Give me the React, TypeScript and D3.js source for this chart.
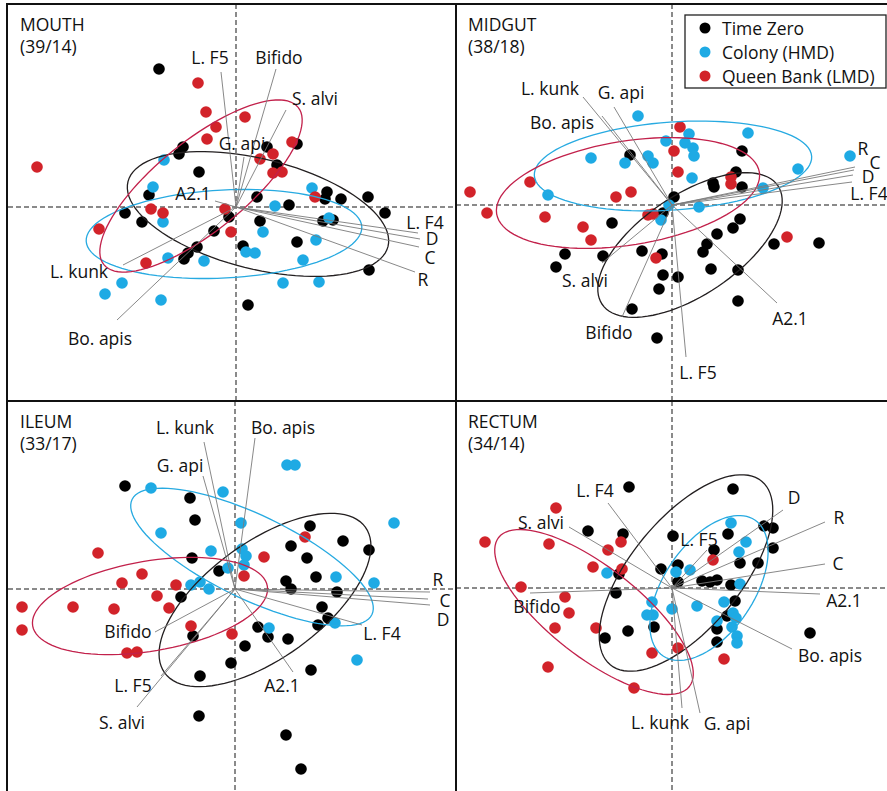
import React from 'react';
import * as d3 from 'd3';

type Pt = [number, number];

// group order: Time Zero, Colony (HMD), Queen Bank (LMD)
const groups = ['Time Zero', 'Colony (HMD)', 'Queen Bank (LMD)'];
const dotColors = ['#000000', '#1eaae4', '#d2232a'];
const ellipseColors = ['#231f20', '#27aae1', '#c2214b'];

const panelNames = ['MOUTH', 'MIDGUT', 'ILEUM', 'RECTUM'];
const panelCounts = ['(39/14)', '(38/18)', '(33/17)', '(34/14)'];
const xDomains: Pt[] = [[-22.8, 22.0], [-21.6, 21.5], [-22.7, 22.1], [-21.6, 21.5]];
const yDomains: Pt[] = [[-19.4, 20.3], [-19.6, 20.1], [-20.2, 18.8], [-20.3, 18.7]];

// ---- MOUTH ----
const mouthTimeZero: Pt[] = [
  [-7.7, 13.8], [-5.3, 6.0], [-5.7, 5.3], [-3.7, 3.5], [3.1, 6.0], [6.1, 6.3], [4.1, 4.2],
  [-8.7, 1.2], [2.1, 1.0], [9.1, 1.5], [8.9, 0.8], [10.5, 0.8], [13.2, 1.0], [-11.1, -0.6],
  [-9.4, -1.5], [-0.7, -1.0], [-2.2, -2.4], [2.4, -1.4], [0.7, -3.9], [-3.9, -4.0], [-4.8, -4.6],
  [-5.2, -5.2], [1.2, -9.8], [6.1, -3.5], [13.3, -6.3], [14.9, -0.6], [8.7, -1.4], [9.7, -1.3], [5.3, 0.2],
];
const mouthColony: Pt[] = [
  [-7.2, 4.7], [-8.3, 2.0], [7.6, 1.9], [-7.3, -1.5], [2.7, -2.5], [1.0, -4.5], [1.9, -4.6],
  [-6.8, -5.1], [-3.2, -5.4], [-11.4, -7.6], [-13.1, -8.7], [-7.5, -9.3], [8.0, -3.3], [6.7, -5.3],
  [4.7, -7.6], [8.3, -7.5], [9.3, -1.1], [3.9, 0.1],
];
const mouthQueenBank: Pt[] = [
  [-3.8, 12.4], [-19.9, 4.0], [-3.0, 9.5], [0.9, 9.0], [-2.0, 8.0], [-2.9, 6.8], [5.6, 6.5],
  [3.7, 5.3], [2.4, 4.8], [3.7, 3.4], [4.6, 3.5], [7.9, 1.0], [-8.5, -0.2], [-7.3, -0.6],
  [-13.7, -2.2], [-1.1, -0.2], [-0.5, -2.5], [-9.0, -5.6],
];
// ---- MIDGUT ----
const midgutTimeZero: Pt[] = [
  [-4.2, 5.0], [7.0, 5.4], [6.4, 3.3], [7.0, 1.8], [4.1, 2.2], [4.2, 1.8], [0.2, 0.8], [-0.9, -0.8],
  [-6.0, -1.8], [6.8, -1.4], [6.1, -2.3], [4.5, -2.9], [3.5, -3.9], [3.1, -4.7], [10.2, -3.9],
  [14.7, -3.8], [-10.7, -4.9], [-11.6, -6.2], [-6.9, -5.1], [-3.0, -4.6], [-1.0, -4.9], [-0.9, -7.0],
  [0.6, -7.2], [-1.3, -8.4], [3.9, -6.4], [6.6, -6.5], [6.6, -9.6], [-4.0, -10.4], [-1.5, -13.3],
];
const midgutColony: Pt[] = [
  [-3.4, 8.9], [7.6, 7.2], [1.7, 7.1], [-0.6, 6.4], [1.3, 6.2], [2.1, 5.7], [2.2, 4.9], [-2.4, 4.9],
  [-1.9, 4.2], [-4.7, 4.2], [-8.1, 4.7], [12.6, 3.6], [17.8, 4.9], [2.0, 2.7], [9.1, 1.7],
  [-12.4, 1.0], [-0.3, 0.0], [2.7, -0.2], [-1.1, -1.5],
];
const midgutQueenBank: Pt[] = [
  [0.8, 7.8], [0.2, 5.4], [0.6, 3.3], [-14.2, 2.3], [-20.2, 1.3], [-5.6, 0.8], [-4.1, 1.3],
  [5.9, 2.8], [5.9, 2.1], [-18.5, -0.8], [-12.7, -1.2], [-8.9, -2.2], [-8.1, -3.5], [-2.4, -1.0],
  [-1.9, -0.9], [-1.6, -5.3], [11.5, -3.2],
];
// ---- ILEUM ----
const ileumTimeZero: Pt[] = [
  [-11.0, 10.3], [-4.5, 9.1], [-4.0, 6.9], [7.5, 6.3], [10.8, 4.8], [13.4, 3.9], [5.6, 4.3],
  [7.2, 3.1], [-4.3, 3.1], [-1.6, 1.8], [8.1, 1.2], [5.1, 0.8], [5.6, 0.0], [10.2, -0.3],
  [-5.4, -0.8], [8.7, -1.8], [9.3, -2.9], [8.3, -3.6], [-4.2, -4.7], [2.3, -3.8], [3.3, -4.8],
  [5.3, -5.0], [1.0, -5.7], [-0.4, -7.4], [-3.5, -8.7], [7.6, -8.1], [-3.6, -12.7], [5.1, -14.6],
  [6.6, -18.0],
];
const ileumColony: Pt[] = [
  [5.2, 12.4], [6.0, 12.4], [-8.4, 10.1], [-1.2, 9.7], [-7.4, 5.6], [15.9, 6.6], [0.6, 6.6],
  [-2.4, 3.8], [0.7, 4.0], [1.1, 3.3], [0.9, 2.4], [-0.7, 2.1], [10.1, 1.2], [13.9, 0.6],
  [-3.5, 0.7], [-4.4, 0.4], [-2.6, 0.0], [3.4, -3.9], [10.0, -3.4], [12.2, -7.1],
];
const ileumQueenBank: Pt[] = [
  [7.0, 5.2], [-13.7, 3.6], [2.9, 3.2], [-9.3, 1.5], [-11.3, 0.6], [-5.9, 0.4], [0.9, 1.3],
  [-21.3, -1.8], [-16.2, -1.8], [-12.1, -2.0], [-21.3, -4.1], [-7.8, -0.7], [-6.6, -1.9],
  [-4.4, -3.7], [-0.3, -4.5], [-10.8, -6.4], [-9.8, -6.3],
];
// ---- RECTUM ----
const rectumTimeZero: Pt[] = [
  [-4.3, 10.1], [6.1, 9.9], [-8.4, 5.7], [-4.9, 5.4], [-5.3, 1.4], [0.1, 5.2], [5.6, 5.4],
  [9.2, 6.2], [10.1, 6.0], [10.1, 4.0], [4.2, 3.8], [6.8, 2.5], [8.6, 2.5], [-1.1, 1.9],
  [0.6, 2.3], [0.6, 0.6], [3.0, 0.7], [3.8, 0.6], [4.5, 0.8], [5.9, 0.3], [-5.6, -0.5],
  [6.3, -1.3], [5.5, -2.8], [4.5, -4.1], [4.5, -5.4], [-1.8, -3.9], [-4.4, -4.3], [-6.7, -5.0],
  [13.8, -4.5],
];
const rectumColony: Pt[] = [
  [5.9, 6.5], [7.4, 4.6], [6.7, 3.6], [-6.5, 1.5], [0.4, 1.6], [1.8, 1.8], [6.8, 0.4],
  [-2.0, -1.4], [-2.5, -2.7], [-1.9, -2.7], [0.0, -2.1], [2.5, -1.8], [5.2, -1.4], [6.1, -2.5],
  [6.4, -3.0], [4.5, -3.3], [6.0, -3.9], [6.5, -4.8], [6.5, -5.5],
];
const rectumQueenBank: Pt[] = [
  [-11.6, 8.0], [-18.7, 4.6], [-12.3, 4.4], [-5.1, 4.6], [-6.4, 3.8], [-7.9, 2.1], [-5.0, 1.9],
  [4.1, 2.8], [-15.1, 0.1], [-10.7, -0.9], [-10.3, -2.5], [-11.7, -4.0], [-7.6, -4.0],
  [-2.0, -6.5], [0.6, -6.0], [5.2, -7.1], [-12.4, -7.9], [-3.8, -10.0],
];

// confidence ellipses: [cx, cy, semi-major, semi-minor, angle (deg, counterclockwise)]
// order per panel: Time Zero, Colony, Queen Bank
type Ell = [number, number, number, number, number];
const mouthEllipses: Ell[] = [[2.2, -0.7, 13.4, 5.5, -14], [-1.2, -2.7, 13.8, 4.4, 3], [-3.5, 2.1, 12.5, 4.5, 39]];
const midgutEllipses: Ell[] = [[1.8, -4.0, 10.6, 5.0, 34], [0.1, 3.9, 13.9, 4.4, 4], [-4.4, 1.2, 13.3, 5.2, 9]];
const ileumEllipses: Ell[] = [[3.0, -1.1, 12.4, 5.8, 36], [1.7, 3.2, 13.3, 4.2, -25.6], [-8.5, -1.7, 11.9, 4.5, 9.6]];
const rectumEllipses: Ell[] = [[1.4, 1.5, 11.9, 5.5, 50.5], [3.7, 0.0, 8.2, 4.5, 56], [-7.8, -2.4, 12.1, 4.5, -38]];

// loadings: taxon, arrow tip x, y, label x, y
type Loading = [string, number, number, number, number];
const mouthLoadings: Loading[] = [
  ['L. F5', -1.5, 13.5, -2.6, 15.0], ['Bifido', 4.0, 13.8, 4.3, 15.0], ['S. alvi', 5.0, 9.7, 7.9, 10.9],
  ['G. api', 0.8, 5.0, 0.6, 6.4], ['A2.1', -2.1, 0.6, -4.3, 1.4], ['L. F4', 18.2, -2.6, 18.9, -1.5],
  ['D', 18.4, -3.2, 19.6, -3.1], ['C', 18.3, -4.0, 19.4, -5.0], ['R', 17.9, -6.5, 18.7, -7.2],
  ['L. kunk', -11.3, -5.8, -15.7, -6.4], ['Bo. apis', -11.9, -11.3, -13.6, -13.1],
];
const midgutLoadings: Loading[] = [
  ['L. kunk', -8.9, 10.8, -12.2, 11.7], ['G. api', -5.8, 9.8, -5.1, 11.3], ['Bo. apis', -7.0, 8.9, -11.0, 8.3],
  ['R', 18.3, 3.8, 19.1, 5.7], ['C', 18.2, 3.5, 20.3, 4.3], ['D', 18.1, 3.0, 19.6, 2.9],
  ['L. F4', 18.0, 2.3, 19.7, 1.2], ['S. alvi', -7.0, -5.8, -8.7, -7.5], ['Bifido', -5.0, -11.2, -6.3, -12.7],
  ['L. F5', 1.4, -15.2, 2.6, -16.7], ['A2.1', 10.5, -9.8, 11.8, -11.3],
];
const ileumLoadings: Loading[] = [
  ['L. kunk', -3.1, 14.7, -5.0, 16.2], ['Bo. apis', 2.0, 15.1, 4.8, 16.2], ['G. api', -3.2, 11.3, -5.5, 12.4],
  ['R', 19.5, -0.3, 20.3, 1.0], ['C', 19.3, -1.0, 21.0, -1.1], ['D', 19.5, -1.6, 20.8, -3.0],
  ['L. F4', 12.7, -3.6, 14.7, -4.4], ['A2.1', 5.8, -8.3, 4.7, -9.6], ['Bifido', -8.0, -4.3, -10.7, -4.2],
  ['L. F5', -7.4, -8.7, -10.2, -9.6], ['S. alvi', -9.8, -11.8, -11.3, -13.3],
];
const rectumLoadings: Loading[] = [
  ['L. F4', -6.4, 8.5, -7.7, 9.8], ['S. alvi', -10.3, 6.1, -13.1, 6.6], ['L. F5', 3.5, 3.8, 2.7, 4.9],
  ['D', 11.1, 7.8, 12.2, 9.1], ['R', 15.3, 6.6, 16.7, 7.1], ['C', 15.3, 2.4, 16.6, 2.5],
  ['A2.1', 14.8, -0.6, 17.2, -1.2], ['Bo. apis', 12.0, -6.1, 15.8, -6.7], ['G. api', 2.8, -12.5, 5.5, -13.5],
  ['L. kunk', 1.0, -12.0, -1.2, -13.4], ['Bifido', -14.2, -0.5, -13.5, -1.8],
];

const scores = [
  [mouthTimeZero, mouthColony, mouthQueenBank],
  [midgutTimeZero, midgutColony, midgutQueenBank],
  [ileumTimeZero, ileumColony, ileumQueenBank],
  [rectumTimeZero, rectumColony, rectumQueenBank],
];
const ellipses = [mouthEllipses, midgutEllipses, ileumEllipses, rectumEllipses];
const loadings = [mouthLoadings, midgutLoadings, ileumLoadings, rectumLoadings];

const W = 887;
const H = 791;
const FONT = '"Open Sans", sans-serif';
const frames = [
  { x0: 8, x1: 456, y0: 4, y1: 401 },
  { x0: 456, x1: 887, y0: 4, y1: 401 },
  { x0: 8, x1: 456, y0: 401, y1: 791 },
  { x0: 456, x1: 887, y0: 401, y1: 791 },
];

function ellipsePoints(e: Ell): Pt[] {
  const [cx, cy, a, b, ang] = e;
  const th = (ang * Math.PI) / 180;
  return d3.range(0, 96).map((i) => {
    const t = (i / 96) * 2 * Math.PI;
    const u = a * Math.cos(t);
    const v = b * Math.sin(t);
    return [cx + u * Math.cos(th) - v * Math.sin(th), cy + u * Math.sin(th) + v * Math.cos(th)] as Pt;
  });
}

function Panel({ idx }: { idx: number }) {
  const f = frames[idx];
  const x = d3.scaleLinear().domain(xDomains[idx]).range([f.x0, f.x1]);
  const y = d3.scaleLinear().domain(yDomains[idx]).range([f.y1, f.y0]);
  const line = d3.line<Pt>().x((d) => x(d[0])).y((d) => y(d[1])).curve(d3.curveLinearClosed);

  return (
    <g>
      <line x1={f.x0} x2={f.x1} y1={y(0)} y2={y(0)} stroke="#8a8a8a" strokeWidth={2} strokeDasharray="5,3" />
      <line x1={x(0)} x2={x(0)} y1={f.y0} y2={f.y1} stroke="#8a8a8a" strokeWidth={2} strokeDasharray="5,3" />
      {scores[idx].map((pts, g) => (
        <g key={g}>
          {pts.map((p, i) => (
            <circle key={i} cx={x(p[0])} cy={y(p[1])} r={5.8} fill={dotColors[g]} />
          ))}
        </g>
      ))}
      {ellipses[idx].map((e, g) => (
        <path key={g} d={line(ellipsePoints(e)) || ''} fill="none" stroke={ellipseColors[g]} strokeWidth={1.3} />
      ))}
      {loadings[idx].map((l, i) => (
        <line key={i} x1={x(0)} y1={y(0)} x2={x(l[1])} y2={y(l[2])} stroke="#7a7a7a" strokeWidth={0.9} />
      ))}
      {loadings[idx].map((l, i) => (
        <text key={i} x={x(l[3])} y={y(l[4])} textAnchor="middle" dominantBaseline="central"
          fontFamily={FONT} fontSize={17.5} fill="#111">
          {l[0]}
        </text>
      ))}
      <text x={f.x0 + 12} y={f.y0 + 27} fontFamily={FONT} fontSize={17.5} fill="#111">{panelNames[idx]}</text>
      <text x={f.x0 + 12} y={f.y0 + 49} fontFamily={FONT} fontSize={17.5} fill="#111">{panelCounts[idx]}</text>
    </g>
  );
}

function Legend() {
  const lx = 685;
  const ly = 15;
  return (
    <g>
      <rect x={lx} y={ly} width={201} height={73} fill="#fff" stroke="#222" strokeWidth={1.3} />
      {groups.map((g, i) => (
        <g key={g}>
          <circle cx={lx + 20} cy={ly + 13 + i * 24} r={5.5} fill={dotColors[i]} />
          <text x={lx + 37} y={ly + 13 + i * 24} dominantBaseline="central" fontFamily={FONT} fontSize={17.5} fill="#111">
            {g}
          </text>
        </g>
      ))}
    </g>
  );
}

export default function App() {
  return (
    <svg width={W} height={H} style={{ position: 'absolute', left: 0, top: 0, background: '#fff' }}>
      <rect x={0} y={0} width={W} height={H} fill="#fff" />
      {[0, 1, 2, 3].map((i) => (
        <Panel key={i} idx={i} />
      ))}
      <Legend />
      <rect x={7} y={4} width={884} height={790} fill="none" stroke="#111" strokeWidth={2} />
      <line x1={456} x2={456} y1={4} y2={H} stroke="#111" strokeWidth={2} />
      <line x1={7} x2={W} y1={401} y2={401} stroke="#111" strokeWidth={2} />
    </svg>
  );
}
